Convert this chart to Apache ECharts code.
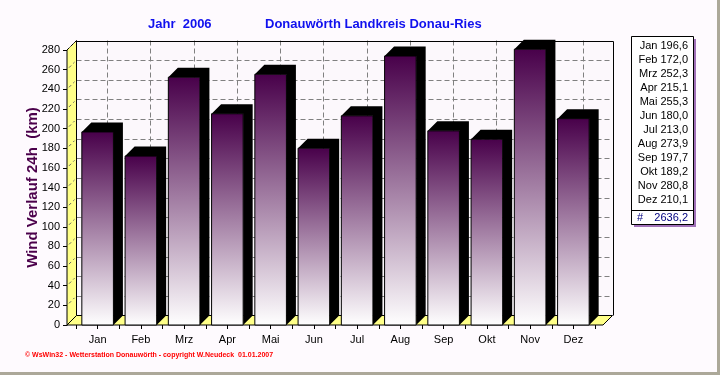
<!DOCTYPE html>
<html><head><meta charset="utf-8">
<script src="https://cdn.jsdelivr.net/npm/echarts@6/dist/echarts.min.js"></script>
<style>html,body{margin:0;padding:0;background:#fefafe}#c{width:720px;height:375px}</style>
</head><body><div id="c"></div>
<script>
// ---- data ----
const categories = ['Jan','Feb','Mrz','Apr','Mai','Jun','Jul','Aug','Sep','Okt','Nov','Dez'];
const windKm = [196.6,172.0,252.3,215.1,255.3,180.0,213.0,273.9,197.7,189.2,280.8,210.1];
const totalKm = 2636.2;
const yMin = 0, yMax = 280, yInterval = 20;
const titleYear = 'Jahr  2006';
const titleStation = 'Donauwörth Landkreis Donau-Ries';
const yAxisName = 'Wind Verlauf 24h  (km)';
const footerText = '© WsWin32 - Wetterstation Donauwörth - copyright W.Neudeck  01.01.2007';

// ---- layout / style ----
const DX = 9.5, DY = -9.5;
const WALL_W = 9, RIGHT_EXTRA = 8;
const FONT = '"Liberation Sans", Arial, sans-serif';
const fmt = v => v.toFixed(1).replace('.', ',');
const px = v => Math.round(v) + 0.5;

function renderFrame(params, api) {
  const cs = params.coordSys;
  const fx0 = cs.x - WALL_W, fx1 = cs.x + cs.width + RIGHT_EXTRA;
  const fy0 = cs.y, fy1 = cs.y + cs.height;
  const bx0 = fx0 + DX, bx1 = fx1 + DX, by0 = fy0 + DY, by1 = fy1 + DY;
  const ch = [];
  ch.push({type:'rect', shape:{x:bx0,y:by0,width:bx1-bx0,height:by1-by0}, style:{fill:'#fcf8fc'}});
  const dash = {stroke:'#808080', lineWidth:1, lineDash:[5,3]};
  for (let v = yMin + yInterval; v <= yMax; v += yInterval) {
    const y = api.coord([0, v])[1];
    ch.push({type:'line', shape:{x1:bx0, y1:px(y+DY), x2:bx1, y2:px(y+DY)}, style:dash});
  }
  for (let i = 0; i < categories.length; i++) {
    const x = px(api.coord([i, 0])[0] + DX);
    ch.push({type:'line', shape:{x1:x, y1:by0, x2:x, y2:by1}, style:dash});
  }
  // left side wall
  ch.push({type:'polygon', shape:{points:[[fx0,fy1],[fx0,fy0],[bx0,by0],[bx0,by1]]},
    style:{fill:'#ffff88', stroke:'#000', lineWidth:1}});
  for (let v = yMin; v <= yMax; v += yInterval) {
    const y = api.coord([0, v])[1];
    ch.push({type:'line', shape:{x1:fx0+2, y1:y-2, x2:bx0-2, y2:y+DY+2}, style:{stroke:'#606060', lineWidth:1, lineDash:[3,3]}});
  }
  // floor
  ch.push({type:'polygon', shape:{points:[[fx0,fy1],[fx1,fy1],[bx1,by1],[bx0,by1]]},
    style:{fill:'#ffff88', stroke:'#000', lineWidth:1}});
  // back wall outline
  ch.push({type:'polyline', shape:{points:[[bx0,px(by0)],[px(bx1),px(by0)],[px(bx1),by1]]}, style:{stroke:'#000', lineWidth:1, fill:null}});
  return {type:'group', children:ch};
}

function renderBar(params, api) {
  const i = api.value(0), v = api.value(1);
  const top = api.coord([i, v]), base = api.coord([i, 0]);
  const band = api.size([1, 0])[0];
  const w = band * 0.73;
  const l = top[0] - w / 2, r = top[0] + w / 2;
  const t = top[1], b = base[1];
  return {type:'group', children:[
    {type:'polygon', shape:{points:[[l,t],[l+DX,t+DY],[r+DX,t+DY],[r+DX,b+DY],[r,b],[r,t]]}, style:{fill:'#000'}},
    {type:'rect', shape:{x:l, y:t, width:w, height:b-t},
      style:{fill:new echarts.graphic.LinearGradient(0,0,0,1,[{offset:0,color:'#48004a'},{offset:1,color:'#ffffff'}]),
             stroke:'#000', lineWidth:1}}
  ]};
}

// legend box
const LX = 631, LY = 36, LW = 62, ROW = 14;
const legendChildren = [
  {type:'rect', shape:{x:LX+3, y:LY+3, width:LW, height:188}, style:{fill:'#a070b8'}},
  {type:'rect', shape:{x:LX+0.5, y:LY+0.5, width:LW, height:188}, style:{fill:'#ffffff', stroke:'#000', lineWidth:1}},
  {type:'line', shape:{x1:LX, y1:210.5, x2:LX+LW, y2:210.5}, style:{stroke:'#000', lineWidth:1}}
];
categories.forEach((c, i) => {
  legendChildren.push({type:'text', style:{x:688, y:LY+10+ROW*i, text:c+' '+fmt(windKm[i]), align:'right', verticalAlign:'middle',
    font:'11px '+FONT, fill:'#000'}});
});
legendChildren.push({type:'text', style:{x:637, y:217.5, text:'#', align:'left', verticalAlign:'middle', font:'11px '+FONT, fill:'#000080'}});
legendChildren.push({type:'text', style:{x:688, y:217.5, text:fmt(totalKm), align:'right', verticalAlign:'middle', font:'11px '+FONT, fill:'#000080'}});

const chart = echarts.init(document.getElementById('c'), null, {renderer:'canvas'});
chart.setOption({
  backgroundColor:'#fefafe',
  animation:false,
  grid:{left:76, right:125, top:50, bottom:50, containLabel:false},
  xAxis:[
    {type:'category', data:categories, axisLine:{show:false},
     axisTick:{show:true, length:4, lineStyle:{color:'#000'}},
     axisLabel:{fontSize:11, color:'#000', margin:9, fontFamily:FONT}},
    {type:'category', data:categories, position:'bottom', axisLine:{show:false},
     axisTick:{show:true, alignWithLabel:true, length:4, lineStyle:{color:'#000'}},
     axisLabel:{show:false}}
  ],
  yAxis:{type:'value', min:yMin, max:yMax, interval:yInterval, offset:9,
    axisLine:{show:true, lineStyle:{color:'#000'}},
    axisTick:{show:true, length:4, lineStyle:{color:'#000'}},
    splitLine:{show:false},
    axisLabel:{fontSize:11, color:'#000', margin:7, fontFamily:FONT},
    name:yAxisName, nameLocation:'middle', nameRotate:90, nameGap:27, nameMoveOverlap:false,
    nameTextStyle:{fontSize:15, fontWeight:'bold', color:'#4b004b', fontFamily:FONT}
  },
  series:[
    {type:'custom', renderItem:renderFrame, data:[[0,0]], z:1, silent:true, clip:false},
    {type:'custom', renderItem:renderBar, data:windKm.map((v,i)=>[i,v]), z:2, clip:false}
  ],
  graphic:[
    {type:'text', style:{x:148, y:24, text:titleYear, verticalAlign:'middle', font:'bold 13px '+FONT, fill:'#1010ee'}},
    {type:'text', style:{x:265, y:24, text:titleStation, verticalAlign:'middle', font:'bold 13px '+FONT, fill:'#1010ee'}},
    {type:'group', children:legendChildren},
    {type:'text', style:{x:25, y:355, text:footerText, verticalAlign:'middle', font:'bold 7px '+FONT, fill:'#ff0000'}},
    {type:'rect', shape:{x:0, y:372, width:720, height:3}, style:{fill:'#aca899'}},
    {type:'rect', shape:{x:717, y:0, width:3, height:375}, style:{fill:'#aca899'}}
  ]
});
</script></body></html>
